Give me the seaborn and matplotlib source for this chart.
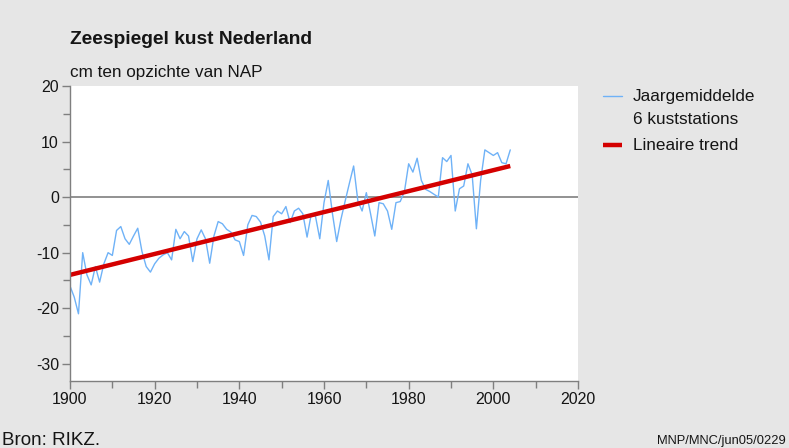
import numpy as np
import pandas as pd
import matplotlib
matplotlib.use("Agg")
import matplotlib.pyplot as plt
from matplotlib.lines import Line2D
from matplotlib.ticker import MultipleLocator
import seaborn as sns

# ---- data ----
years = list(range(1900, 2005))
sea_level = [
    -16.0, -18.0, -21.0, -10.0, -14.0, -15.8, -12.5, -15.3, -12.0, -10.0,  # 1900-1909
    -10.5, -6.0, -5.3, -7.5, -8.5, -7.0, -5.6, -9.8, -12.5, -13.5,         # 1910-1919
    -12.0, -11.0, -10.4, -10.0, -11.3, -5.8, -7.5, -6.2, -7.0, -11.6,      # 1920-1929
    -7.5, -5.9, -7.5, -11.9, -7.0, -4.4, -4.8, -5.8, -6.3, -7.7,           # 1930-1939
    -8.0, -10.5, -5.0, -3.3, -3.5, -4.5, -7.0, -11.3, -3.5, -2.5,          # 1940-1949
    -3.0, -1.7, -4.6, -2.5, -2.0, -3.0, -7.2, -3.0, -3.5, -7.5,            # 1950-1959
    -1.0, 3.0, -3.0, -8.0, -4.0, -0.7, 2.5, 5.6, -0.7, -2.5,               # 1960-1969
    0.8, -3.0, -7.0, -1.0, -1.2, -2.5, -5.8, -1.0, -0.8, 1.0,              # 1970-1979
    6.0, 4.5, 7.0, 3.0, 1.4, 1.0, 0.5, 0.0, 7.1, 6.4,                      # 1980-1989
    7.5, -2.5, 1.5, 2.0, 6.0, 4.0, -5.7, 3.0, 8.5, 8.0,                    # 1990-1999
    7.5, 8.0, 6.2, 6.0, 8.5,                                               # 2000-2004
]
trend_years = [1900, 2004]
trend_values = [-14.0, 5.6]

x_ticks = [1900, 1920, 1940, 1960, 1980, 2000, 2020]
y_ticks = [20, 10, 0, -10, -20, -30]

title = "Zeespiegel kust Nederland"
subtitle = "cm ten opzichte van NAP"
label_series_1 = "Jaargemiddelde"
label_series_2 = "6 kuststations"
label_trend = "Lineaire trend"
source = "Bron: RIKZ."
code = "MNP/MNC/jun05/0229"

df = pd.DataFrame({"jaar": years, "zeespiegel": sea_level})
df_trend = pd.DataFrame({"jaar": trend_years, "trend": trend_values})

# ---- style ----
sns.set_style("white")
plt.rcParams["font.family"] = ["Liberation Sans", "DejaVu Sans"]

bg = "#e6e6e6"
blue = "#6fb2f7"
red = "#d40000"
txt = "#151515"

W, H = 789, 448
fig = plt.figure(figsize=(W / 100, H / 100), dpi=100, facecolor=bg)
ax = fig.add_axes([70 / W, 67 / H, 508 / W, 295 / H])
ax.set_facecolor("white")

sns.lineplot(data=df, x="jaar", y="zeespiegel", ax=ax, color=blue, linewidth=1.0)
sns.lineplot(data=df_trend, x="jaar", y="trend", ax=ax, color=red, linewidth=3.2,
             solid_capstyle="butt")
ax.axhline(0, color="#7f7f7f", linewidth=1.2, zorder=1)

ax.set_xlim(1900, 2020)
ax.set_ylim(-33.1, 20)
ax.set_xticks(x_ticks)
ax.set_yticks(y_ticks)
ax.xaxis.set_minor_locator(MultipleLocator(10))
ax.yaxis.set_minor_locator(MultipleLocator(5))
ax.set_xlabel("")
ax.set_ylabel("")

for s in ["top", "right"]:
    ax.spines[s].set_visible(False)
for s in ["left", "bottom"]:
    ax.spines[s].set_color("#7f7f7f")
    ax.spines[s].set_linewidth(1.0)

ax.tick_params(axis="both", which="both", direction="out", color="#7f7f7f",
               labelsize=11.5, labelcolor=txt, left=True, bottom=True)
ax.tick_params(axis="both", which="major", length=6, width=1.0, pad=2)
ax.tick_params(axis="both", which="minor", length=5, width=1.0)
ax.set_yticklabels([str(v) for v in y_ticks])

def fy(py):
    return 1 - py / H

# titles
fig.text(70 / W, fy(40), title, fontsize=13.8, fontweight="bold",
         color=txt, va="center", ha="left")
fig.text(70 / W, fy(72), subtitle, fontsize=12.3,
         color=txt, va="center", ha="left")

# legend (manual, figure coordinates)
fig.add_artist(Line2D([603 / W, 622 / W], [fy(96), fy(96)], color=blue,
                      linewidth=1.0, transform=fig.transFigure))
fig.add_artist(Line2D([603 / W, 622 / W], [fy(145), fy(145)], color=red,
                      linewidth=3.2, transform=fig.transFigure,
                      solid_capstyle="butt"))
for py, s in [(96, label_series_1), (120, label_series_2), (145, label_trend)]:
    fig.text(633 / W, fy(py), s, fontsize=12.3, color=txt,
             va="center", ha="left")

fig.text(2 / W, fy(440), source, fontsize=13.5, color=txt,
         va="center", ha="left")
fig.text(657 / W, fy(441), code, fontsize=9.3, color=txt,
         va="center", ha="left")

fig.savefig("out.png", dpi=100, facecolor=bg)
